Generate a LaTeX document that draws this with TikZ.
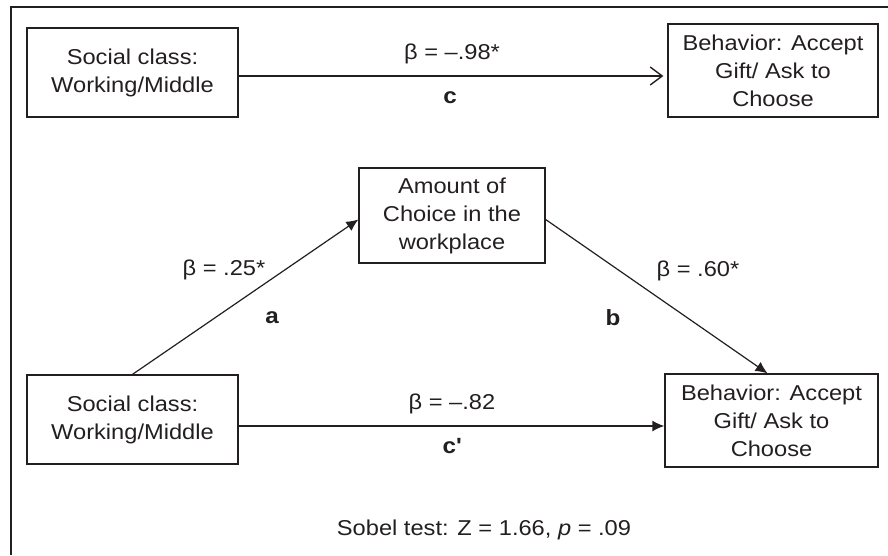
\documentclass[tikz,border=0pt]{standalone}
\usepackage{fontspec}
\setmainfont{Liberation Sans}[FakeStretch=1.1]
\usepackage{xcolor}
\usepackage{tikz}
\usetikzlibrary{arrows.meta}
\definecolor{inkgray}{HTML}{231F20}

\begin{document}
\begin{tikzpicture}[
    x=1pt, y=-1pt,
    box/.style={
        rectangle,
        draw=inkgray,
        line width=1.3pt,
        align=center,
        inner sep=0pt,
        text=inkgray,
        font=\fontsize{21.5}{28}\selectfont
    },
    lbl/.style={
        anchor=base,
        inner sep=0pt,
        text=inkgray,
        font=\fontsize{21.5}{28}\selectfont
    },
    pathlbl/.style={
        lbl,
        font=\fontsize{22}{28}\selectfont\bfseries
    },
    arrow/.style={
        draw=inkgray,
        line width=1.6pt,
        -{Latex[length=12pt,width=11pt]}
    },
    slant/.style={
        arrow,
        line width=1.2pt
    },
    openarrow/.style={
        draw=inkgray,
        line width=1.6pt,
        -{Straight Barb[length=12pt,width=18pt,line width=1.4pt]}
    }
]
\useasboundingbox (0,0) rectangle (888,555);

% Frame
\draw[line width=2.8pt, inkgray] (11,555) -- (11,7) -- (888,7);

% Total effect row
\node[box, minimum width=211pt, minimum height=89pt] (classTop) at (132.5,72.5) {Social class:\\Working/Middle};
\node[box, minimum width=210pt, minimum height=93pt] (behavTop) at (773,70.5) {Behavior: Accept\\Gift/ Ask to\\Choose};

% Mediation triangle
\node[box, minimum width=186pt, minimum height=95pt] (choice) at (452,215.5) {Amount of\\Choice in the\\workplace};
\node[box, minimum width=211pt, minimum height=89pt] (classBot) at (132.5,419.5) {Social class:\\Working/Middle};
\node[box, minimum width=213pt, minimum height=93pt] (behavBot) at (771.5,420.5) {Behavior: Accept\\Gift/ Ask to\\Choose};

% Arrows
\draw[openarrow, shorten >=4pt] ([yshift=-3.5pt]classTop.east) -- ([yshift=-5.5pt]behavTop.west);
\draw[slant] (classBot.north) -- ([yshift=-4pt]choice.west);
\draw[slant] ([yshift=-4pt]choice.east) -- ([xshift=-4pt]behavBot.north);
\draw[arrow] ([yshift=-6.5pt]classBot.east) -- ([yshift=-5.5pt]behavBot.west);

% Coefficients
\node[lbl] (betaC) at (452,59) {β = –.98*};
\node[pathlbl] (pathC) at (450,103) {c};
\node[lbl] (betaA) at (224,275) {β = .25*};
\node[pathlbl] (pathA) at (272,323) {a};
\node[lbl] (betaB) at (698,276) {β = .60*};
\node[pathlbl] (pathB) at (613,325) {b};
\node[lbl] (betaCp) at (452,409) {β = –.82};
\node[pathlbl] (pathCp) at (452,453) {c\textquotesingle};

% Sobel
\node[lbl] (sobel) at (484,535) {Sobel test: Z = 1.66, \textit{p} = .09};

\end{tikzpicture}
\end{document}
